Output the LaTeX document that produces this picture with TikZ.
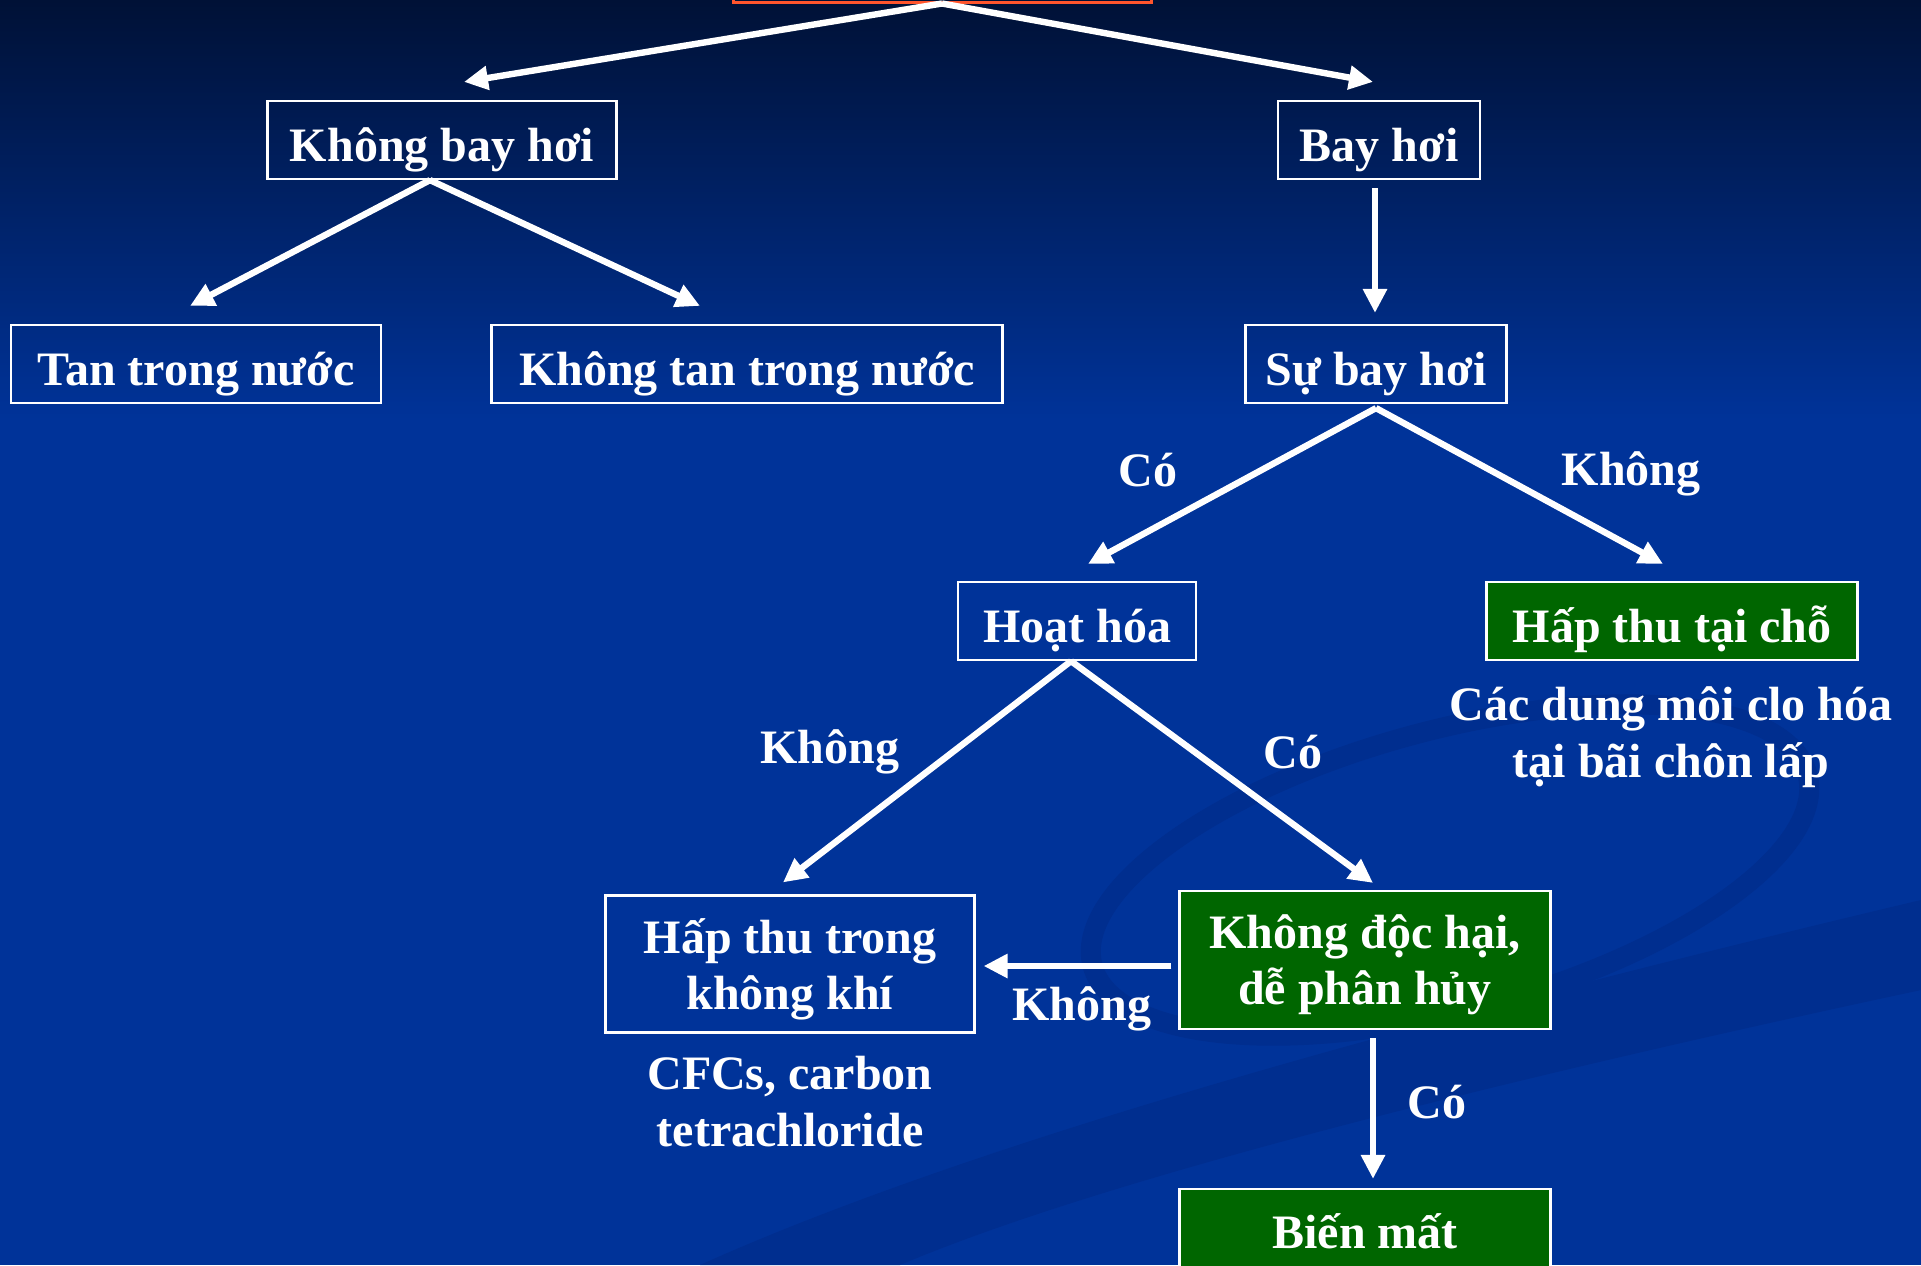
\documentclass[tikz,border=0pt]{standalone}
\usepackage{fontspec}
\setmainfont{Liberation Serif}
\usetikzlibrary{arrows.meta}

\definecolor{navytop}{RGB}{0,17,54}
\definecolor{slideblue}{RGB}{0,51,153}
\definecolor{swoosh}{RGB}{0,46,143}
\definecolor{leafgreen}{RGB}{0,102,0}
\definecolor{srcorange}{RGB}{255,85,45}

\tikzset{
	box/.style={draw=white,line width=1.1pt,text=white,font=\fontsize{24}{28}\selectfont\bfseries,
		inner xsep=10pt,inner ysep=3pt,minimum height=39pt,align=center,text height=26.8pt,text depth=5.5pt},
	box2/.style={box,text height=,text depth=-0.5pt},
	gbox/.style={box,fill=leafgreen},
	gbox2/.style={box2,fill=leafgreen},
	lbl/.style={text=white,font=\fontsize{24}{28.5}\selectfont\bfseries,inner sep=0pt,align=center},
	arr/.style={line width=3.2pt,white,->,>={Triangle[length=12pt,width=11.5pt]}}
}

\begin{document}
\begin{tikzpicture}[x=0.5pt,y=-0.5pt]
		\useasboundingbox (0,0) rectangle (1921,1265);
		\clip (0,0) rectangle (1921,1265);
		% background
		\shade[top color=navytop,bottom color=slideblue] (0,0) rectangle (1921,420);
		\fill[slideblue] (0,419) rectangle (1921,1265);
		\fill[swoosh] (700,1265) .. controls (1000,1130) and (1500,1000) .. (1921,900)
			-- (1921,990) .. controls (1500,1080) and (1100,1180) .. (900,1265) -- cycle;
		\draw[swoosh,line width=10pt,rotate around={15:(1450,870)}] (1450,870) ellipse (370 and 140);
		
		\node[draw=srcorange,line width=1.5pt,minimum width=209pt,minimum height=40pt] (src) at (942,-38) {};
		
		\node[box,minimum width=174.5pt] (nbh) at (442,140) {Không bay hơi};
		\node[box,minimum width=101pt] (bh) at (1379,140) {Bay hơi};
		\node[box,minimum width=185pt] (tan) at (196,364) {Tan trong nước};
		\node[box,minimum width=255.5pt] (ktan) at (747,364) {Không tan trong nước};
		\node[box,minimum width=130.5pt] (sbh) at (1376,364) {Sự bay hơi};
		\node[box,minimum width=119pt] (hh) at (1077,621) {Hoạt hóa};
		\node[gbox,minimum width=185.5pt] (htc) at (1672,621) {Hấp thu tại chỗ};
		\node[box2,minimum width=184.5pt,minimum height=68.5pt] (htk) at (790,964) {Hấp thu trong\\không khí};
		\node[gbox2,minimum width=185.5pt,minimum height=69pt] (kdh) at (1365,960) {Không độc hại,\\dễ phân hủy};
		\node[gbox,minimum width=185.5pt,minimum height=45pt,text height=20.2pt] (bm) at (1365,1234) {Biến mất};
		
		\node[lbl] (notehtc) at (1671,737) {Các dung môi clo hóa\\tại bãi chôn lấp};
		\node[lbl] (notehtk) at (790,1102) {CFCs, carbon\\tetrachloride};
		
		\draw[arr] (src.south) -- ([xshift=11pt,yshift=9pt]nbh.north);
		\draw[arr] (src.south) -- ([xshift=-3pt,yshift=9pt]bh.north);
		\draw[arr] ([xshift=-6pt]nbh.south) -- ([xshift=-3pt,yshift=9pt]tan.north);
		\draw[arr] ([xshift=-6pt]nbh.south) -- ([xshift=-23.5pt,yshift=9pt]ktan.north);
		\draw[arr] ([xshift=-2pt,yshift=-4pt]bh.south) -- ([xshift=-0.5pt,yshift=5.5pt]sbh.north);
		\draw[arr] ([yshift=-2pt]sbh.south) -- ([xshift=5.5pt,yshift=8.5pt]hh.north);
		\draw[arr] ([yshift=-2pt]sbh.south) -- ([xshift=-4.5pt,yshift=8.5pt]htc.north);
		\draw[arr] ([xshift=-3pt]hh.south) -- ([xshift=-3.5pt,yshift=6pt]htk.north);
		\draw[arr] ([xshift=-3pt]hh.south) -- ([xshift=4pt,yshift=3.5pt]kdh.north);
		\draw[arr] ([xshift=-3.5pt,yshift=-3pt]kdh.west) -- ([xshift=4pt,yshift=-1pt]htk.east);
		\draw[arr] ([xshift=4pt,yshift=-4pt]kdh.south) -- ([xshift=4pt,yshift=4.5pt]bm.north);
		
		\node[lbl] (co1) at (1148,470) {Có};
		\node[lbl] (khong1) at (1631,474) {Không};
		\node[lbl] (khong2) at (830,752) {Không};
		\node[lbl] (co2) at (1293,752) {Có};
		\node[lbl] (khong3) at (1082,1009) {Không};
		\node[lbl] (co3) at (1437,1102) {Có};
	\end{tikzpicture}
\end{document}
